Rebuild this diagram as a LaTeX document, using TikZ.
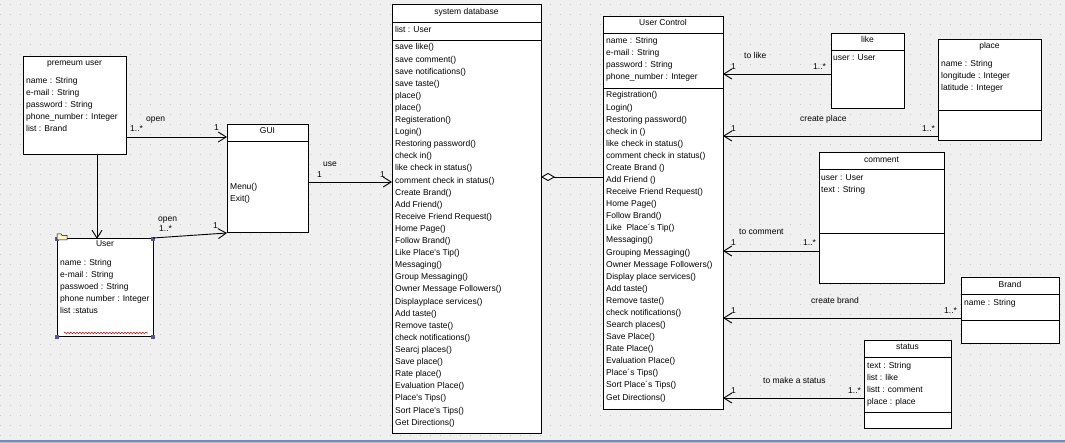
\documentclass[tikz,border=0pt]{standalone}
\usepackage{fontspec}
\setmainfont{Liberation Sans}
\usetikzlibrary{arrows.meta,calc,decorations.pathmorphing}
\definecolor{bg}{RGB}{240,240,240}
\definecolor{gridc}{RGB}{200,200,200}
\definecolor{handle}{RGB}{88,88,140}
\definecolor{folder}{RGB}{255,248,196}
\definecolor{wavy}{RGB}{200,30,30}
\definecolor{frame}{RGB}{112,140,190}
\tikzset{
  box/.style={draw=black, line width=1pt, fill=white, anchor=north west, inner sep=0pt, outer sep=0pt},
  txt/.style={font=\fontsize{8.5}{12}\selectfont, inner sep=0pt, anchor=base west},
  ttl/.style={txt, anchor=base},
  sep/.style={line width=1pt},
  assoc/.style={line width=0.9pt, -{Straight Barb[length=8pt,width=10pt]}},
  agg/.style={line width=0.9pt, {Diamond[fill=white,length=14pt,width=8pt]}-},
}
\begin{document}
\begin{tikzpicture}[x=1pt,y=-1pt]
\useasboundingbox (0,0) rectangle (1065,443);
% background
\fill[bg] (0,0) rectangle (1065,443);
\foreach \yy in {5,15,...,435}
  \draw[gridc, line width=1pt, dash pattern=on 1pt off 9pt] (0,\yy) -- (1065,\yy);
\fill[frame] (0,440) rectangle (1065,441.5);
\fill[black!25] (0,441.5) rectangle (1065,443);

% ---------- boxes ----------
\node[box, minimum width=103pt, minimum height=98pt] (pu) at (23,57) {};
\node[box, minimum width=81pt, minimum height=108pt] (gui) at (227,125) {};
\node[box, minimum width=96pt, minimum height=98pt] (usr) at (57,239) {};
\node[box, minimum width=149pt, minimum height=428pt] (sd) at (392,5) {};
\node[box, minimum width=120pt, minimum height=392pt] (uc) at (603,17) {};
\node[box, minimum width=73pt, minimum height=75pt] (like) at (831,34) {};
\node[box, minimum width=103pt, minimum height=101pt] (place) at (938,40) {};
\node[box, minimum width=125pt, minimum height=131pt] (comment) at (819,153) {};
\node[box, minimum width=98pt, minimum height=66pt] (brand) at (961,278) {};
\node[box, minimum width=87pt, minimum height=87pt] (status) at (864,341) {};

% separators
\draw[sep] (227,142) -- (308,142);
\draw[sep] (392,23) -- (541,23);
\draw[sep] (392,41) -- (541,41);
\draw[sep] (603,34) -- (723,34);
\draw[sep] (603,89) -- (723,89);
\draw[sep] (831,51) -- (904,51);
\draw[sep] (938,111) -- (1041,111);
\draw[sep] (819,170) -- (944,170);
\draw[sep] (819,234) -- (944,234);
\draw[sep] (961,295) -- (1059,295);
\draw[sep] (961,321) -- (1059,321);
\draw[sep] (864,358) -- (951,358);
\draw[sep] (864,412) -- (951,412);

% User box decorations (selection handles, icon, wavy underline)
\foreach \hx/\hy [count=\k] in {57/239,153/239,57/337,153/337}
  \fill[handle] (\hx-2,\hy-2) rectangle (\hx+2,\hy+2);
\draw[fill=folder, line width=0.5pt] (57,240) -- (57,234) -- (61,234) -- (62,235.5) -- (67,235.5) -- (67,240) -- cycle;
\draw[wavy, line width=0.6pt, decorate, decoration={snake, amplitude=0.8pt, segment length=3pt}] (64,333) -- (148,333);

% ---------- texts ----------
\node[ttl] (pu-t) at (74.5,66) {premeum user};
\foreach \t [count=\i from 0] in {name : String, e-mail : String, password : String, phone\_number : Integer, list : Brand}
  \node[txt] (pu-a\i) at (26,{84+12*\i}) {\t};

\node[ttl] (usr-t) at (105,247) {User};
\foreach \t [count=\i from 0] in {name : String, e-mail : String, passwoed : String, phone number : Integer, list :status}
  \node[txt] (usr-a\i) at (60,{266+12*\i}) {\t};

\node[ttl] (gui-t) at (267.5,134) {GUI};
\node[txt] (gui-m0) at (230,190) {Menu()};
\node[txt] (gui-m1) at (230,202) {Exit()};

\node[ttl] (sd-t) at (466.5,15) {system database};
\node[txt] (sd-a0) at (395,33) {list : User};
\foreach \t [count=\i from 0] in {save like(), save comment(), save notifications(), save taste(), place(), place(), Registeration(), Login(), Restoring password(), check in(), like check in status(), comment check in status(), Create Brand(), Add Friend(), Receive Friend Request(), Home Page(), Follow Brand(), Like Place\textquotesingle s Tip(), Messaging(), Group Messaging(), Owner Message Followers(), Displayplace services(), Add taste(), Remove taste(), check notifications(), Searcj places(), Save place(), Rate place(), Evaluation Place(), Place\textquotesingle s Tips(), Sort Place\textquotesingle s Tips(), Get Directions()}
  \node[txt] (sd-m\i) at (395,{50+12.1*\i}) {\t};

\node[ttl] (uc-t) at (663,26) {User Control};
\foreach \t [count=\i from 0] in {name : String, e-mail : String, password : String, phone\_number : Integer}
  \node[txt] (uc-a\i) at (606,{44+12*\i}) {\t};
\foreach \t [count=\i from 0] in {Registration(), Login(), Restoring password(), check in (), like check in status(), comment check in status(), Create Brand (), Add Friend (), Receive Friend Request(), Home Page(), Follow Brand(), Like\ \ Place´s Tip(), Messaging(), Grouping Messaging(), Owner Message Followers(), Display place services(), Add taste(), Remove taste(), check notifications(), Search places(), Save Place(), Rate Place(), Evaluation Place(), Place´s Tips(), Sort Place´s Tips(), Get Directions()}
  \node[txt] (uc-m\i) at (606,{98+12.08*\i}) {\t};

\node[ttl] (like-t) at (867.5,43) {like};
\node[txt] (like-a0) at (833,61) {user : User};

\node[ttl] (place-t) at (989.5,49) {place};
\foreach \t [count=\i from 0] in {name : String, longitude : Integer, latitude : Integer}
  \node[txt] (place-a\i) at (941,{67+12*\i}) {\t};

\node[ttl] (comment-t) at (881.5,163) {comment};
\node[txt] (comment-a0) at (821,181) {user : User};
\node[txt] (comment-a1) at (821,193) {text : String};

\node[ttl] (brand-t) at (1010,288) {Brand};
\node[txt] (brand-a0) at (964,306) {name : String};

\node[ttl] (status-t) at (907.5,350) {status};
\foreach \t [count=\i from 0] in {text : String, list : like, listt : comment, place : place}
  \node[txt] (status-a\i) at (867,{368+12*\i}) {\t};

% ---------- connectors ----------
\draw[assoc] ($(pu.north east)+(0,80)$) -- ($(gui.north west)+(0,12)$);
\draw[assoc] ($(pu.south west)+(74,0)$) -- ($(usr.north west)+(40,0)$);
\draw[assoc] ($(usr.north east)+(0,-1)$) -- (gui.south west);
\draw[assoc] ($(gui.north east)+(0,57)$) -- ($(sd.north west)+(0,177)$);
\draw[agg] ($(sd.north east)+(0,172)$) -- ($(uc.north west)+(0,160)$);
\draw[assoc] ($(like.north west)+(0,40)$) -- ($(uc.north east)+(0,57)$);
\draw[assoc] ($(place.north west)+(0,96)$) -- ($(uc.north east)+(0,119)$);
\draw[assoc] ($(comment.north west)+(0,98)$) -- ($(uc.north east)+(0,234)$);
\draw[assoc] ($(brand.north west)+(0,40)$) -- ($(uc.north east)+(0,301)$);
\draw[assoc] ($(status.north west)+(0,57)$) -- ($(uc.north east)+(0,381)$);

% ---------- connector labels ----------
\node[txt] (l1a) at (130,132) {1..*};
\node[txt] (l1b) at (146,122) {open};
\node[txt] (l1c) at (214,131) {1};
\node[txt] (l2a) at (158,222) {open};
\node[txt] (l2b) at (159,232) {1..*};
\node[txt] (l2c) at (213,229) {1};
\node[txt] (l3a) at (323,167) {use};
\node[txt] (l3b) at (317,178) {1};
\node[txt] (l3c) at (380,178) {1};
\node[txt] (l4a) at (744,59) {to like};
\node[txt] (l4b) at (731,70) {1};
\node[txt] (l4c) at (813,70) {1..*};
\node[txt] (l5a) at (800,122) {create place};
\node[txt] (l5b) at (731,132) {1};
\node[txt] (l5c) at (922,132) {1..*};
\node[txt] (l6a) at (739,235) {to comment};
\node[txt] (l6b) at (731,246) {1};
\node[txt] (l6c) at (803,246) {1..*};
\node[txt] (l7a) at (811,304) {create brand};
\node[txt] (l7b) at (731,314) {1};
\node[txt] (l7c) at (944,314) {1..*};
\node[txt] (l8a) at (763,383) {to make a status};
\node[txt] (l8b) at (731,393) {1};
\node[txt] (l8c) at (848,393) {1..*};
\end{tikzpicture}
\end{document}
